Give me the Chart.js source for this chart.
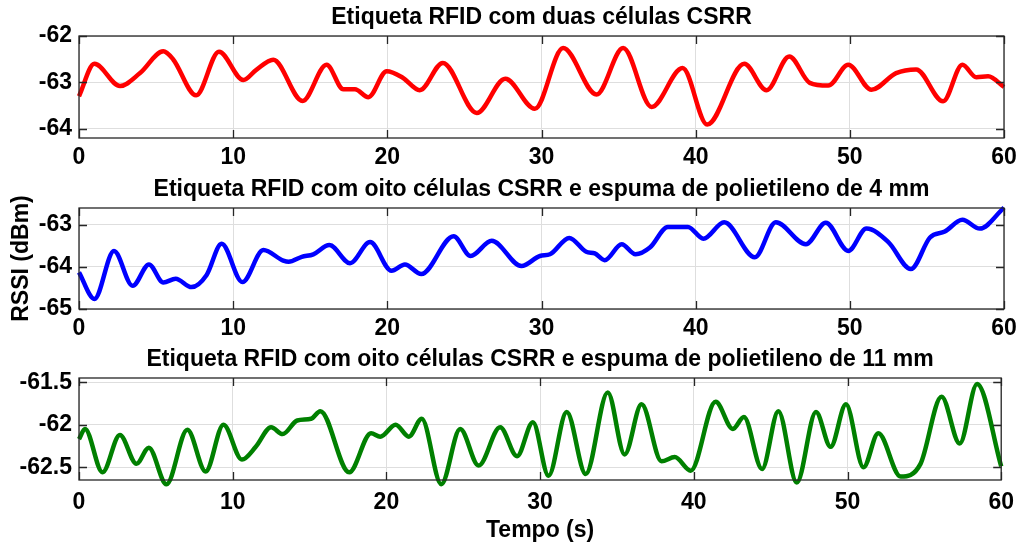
<!DOCTYPE html>
<html>
<head>
<meta charset="utf-8">
<script src="https://cdn.jsdelivr.net/npm/chart.js@4.4.1/dist/chart.umd.min.js"></script>
<style>
    body { margin: 0; background: #fff; width: 1023px; height: 547px; overflow: hidden; position: relative; }
    .painel { position: absolute; left: 0; width: 1023px; }
</style>
</head>
<body>
<div class="painel" style="top:0;height:170px"><canvas id="grafico1"></canvas></div>
<div class="painel" style="top:172px;height:169px"><canvas id="grafico2"></canvas></div>
<div class="painel" style="top:342px;height:205px"><canvas id="grafico3"></canvas></div>
<script>
// dados (tempo em s, RSSI em dBm)
var tempo1 = [0, 1.0, 2.66, 3.96, 5.47, 6.1, 7.6, 9.08, 10.66, 11.5, 12.6, 14.5, 16.06, 17.15, 17.9, 18.77, 19.96, 21.0, 22.1, 23.6, 25.8, 27.65, 29.57, 31.4, 33.57, 35.3, 37.14, 39.15, 40.75, 43.15, 44.6, 46.07, 47.4, 48.6, 49.9, 51.4, 53.0, 54.3, 56.05, 57.3, 58.2, 58.97, 60];
var rssi1 = [-63.3, -62.6, -63.08, -62.8, -62.33, -62.5, -63.28, -62.34, -62.95, -62.73, -62.51, -63.4, -62.62, -63.15, -63.15, -63.32, -62.76, -62.9, -63.17, -62.58, -63.66, -62.92, -63.57, -62.26, -63.26, -62.26, -63.53, -62.69, -63.91, -62.6, -63.17, -62.44, -63.01, -63.07, -62.62, -63.16, -62.8, -62.72, -63.41, -62.62, -62.89, -62.87, -63.1];

var tempo2 = [0, 1.0, 2.27, 3.48, 4.54, 5.47, 6.27, 7.3, 8.28, 9.25, 10.6, 11.96, 13.25, 13.6, 14.45, 15.2, 16.24, 17.58, 18.88, 20.27, 21.14, 22.2, 24.3, 25.4, 26.77, 28.7, 29.9, 30.55, 31.8, 32.9, 33.46, 34.1, 35.2, 36.1, 37.03, 38.2, 39.5, 40.5, 41.85, 43.84, 45.2, 47.15, 48.44, 49.9, 51.08, 52.5, 53.96, 55.2, 56.16, 57.3, 58.43, 60];
var rssi2 = [-64.13, -64.76, -63.62, -64.45, -63.94, -64.37, -64.28, -64.48, -64.19, -63.45, -64.36, -63.6, -63.85, -63.88, -63.76, -63.7, -63.48, -63.91, -63.41, -64.09, -63.94, -64.17, -63.27, -63.74, -63.38, -63.98, -63.74, -63.7, -63.31, -63.64, -63.68, -63.84, -63.46, -63.7, -63.54, -63.05, -63.05, -63.33, -62.94, -63.77, -62.94, -63.46, -62.95, -63.62, -63.09, -63.41, -64.05, -63.3, -63.16, -62.88, -63.09, -62.59];

var tempo3 = [0, 0.39, 1.53, 2.66, 3.74, 4.54, 5.69, 7.05, 8.24, 9.4, 10.6, 11.5, 12.5, 13.25, 14.2, 15.1, 15.7, 17.58, 19.0, 19.6, 20.6, 21.46, 22.3, 23.57, 24.8, 26.0, 27.4, 28.5, 29.53, 30.55, 31.73, 32.97, 34.4, 35.5, 36.6, 37.9, 38.76, 39.8, 41.42, 42.54, 43.26, 44.44, 45.5, 46.7, 47.95, 48.9, 49.9, 51.04, 52.0, 53.46, 54.75, 56.12, 57.3, 58.43, 60];
var rssi3 = [-62.17, -62.05, -62.56, -62.12, -62.46, -62.27, -62.7, -62.06, -62.55, -62.0, -62.41, -62.26, -62.03, -62.11, -61.95, -61.93, -61.84, -62.56, -62.1, -62.14, -62.0, -62.14, -61.93, -62.7, -62.05, -62.48, -62.03, -62.37, -61.97, -62.6, -61.85, -62.58, -61.62, -62.35, -61.76, -62.43, -62.38, -62.54, -61.73, -62.05, -61.91, -62.52, -61.84, -62.68, -61.85, -62.26, -61.76, -62.5, -62.1, -62.61, -62.46, -61.67, -62.22, -61.52, -62.49];

var ticksX = [0, 10, 20, 30, 40, 50, 60];
var ticksY1 = [-64, -63, -62];
var ticksY2 = [-65, -64, -63];
var ticksY3 = [-62.5, -62, -61.5];

var titulos = [
    'Etiqueta RFID com duas células CSRR',
    'Etiqueta RFID com oito células CSRR e espuma de polietileno de 4 mm',
    'Etiqueta RFID com oito células CSRR e espuma de polietileno de 11 mm'
];

Chart.defaults.font.family = "'Liberation Sans', Arial, Helvetica, sans-serif";
Chart.defaults.color = '#000';

// caixa preta em volta e marcas de escala para dentro (estilo MATLAB)
var moldura = {
    id: 'moldura',
    afterDatasetsDraw: function (chart) {
        var ctx = chart.ctx;
        var a = chart.chartArea;
        var sx = chart.scales.x;
        var sy = chart.scales.y;
        var tam = 8;
        ctx.save();
        ctx.strokeStyle = '#262626';
        ctx.lineWidth = 1.3;
        ctx.beginPath();
        sx.ticks.forEach(function (t) {
            var px = Math.round(sx.getPixelForValue(t.value)) + 0.5;
            ctx.moveTo(px, a.bottom);
            ctx.lineTo(px, a.bottom - tam);
            ctx.moveTo(px, a.top);
            ctx.lineTo(px, a.top + tam);
        });
        sy.ticks.forEach(function (t) {
            var py = Math.round(sy.getPixelForValue(t.value)) + 0.5;
            ctx.moveTo(a.left, py);
            ctx.lineTo(a.left + tam, py);
            ctx.moveTo(a.right, py);
            ctx.lineTo(a.right - tam, py);
        });
        ctx.stroke();
        ctx.strokeRect(a.left, a.top, a.right - a.left, a.bottom - a.top);
        ctx.restore();
    }
};

function criarGrafico(id, titulo, tempo, rssi, cor, yMin, yMax, ticksY, alturaX, padX, tituloY, tituloX) {
    var pontos = tempo.map(function (t, i) {
        return { x: t, y: rssi[i] };
    });
    var ctx = document.getElementById(id);
    return new Chart(ctx, {
        type: 'line',
        data: {
            datasets: [{
                data: pontos,
                borderColor: cor,
                borderWidth: 4.5,
                pointRadius: 0,
                cubicInterpolationMode: 'monotone',
                clip: false
            }]
        },
        plugins: [moldura],
        options: {
            responsive: true,
            maintainAspectRatio: false,
            animation: false,
            events: [],
            layout: { padding: { left: 0, right: 19, top: 0, bottom: 0 } },
            plugins: {
                legend: { display: false },
                tooltip: { enabled: false },
                title: {
                    display: true,
                    text: titulo,
                    fullSize: false,
                    color: '#000',
                    font: { size: 23, weight: 'bold' },
                    padding: { top: 4, bottom: 4.4 }
                }
            },
            scales: {
                x: {
                    type: 'linear',
                    min: 0,
                    max: 60,
                    afterBuildTicks: function (scale) {
                        scale.ticks = ticksX.map(function (v) { return { value: v }; });
                    },
                    afterFit: function (scale) {
                        scale.height = alturaX;
                    },
                    grid: { color: '#dedede', lineWidth: 1, drawTicks: false },
                    border: { display: false },
                    ticks: {
                        color: '#000',
                        padding: padX,
                        maxRotation: 0,
                        font: { size: 23, weight: 'bold' },
                        callback: function (value) { return String(value); }
                    },
                    title: {
                        display: !!tituloX,
                        text: tituloX || '',
                        color: '#000',
                        font: { size: 23, weight: 'bold' },
                        padding: { top: 0, bottom: 3 }
                    }
                },
                y: {
                    min: yMin,
                    max: yMax,
                    afterBuildTicks: function (scale) {
                        scale.ticks = ticksY.map(function (v) { return { value: v }; });
                    },
                    afterFit: function (scale) {
                        scale.width = 79;
                    },
                    grid: { color: '#dedede', lineWidth: 1, drawTicks: false },
                    border: { display: false },
                    ticks: {
                        color: '#000',
                        padding: 7,
                        font: { size: 23, weight: 'bold' },
                        callback: function (value) { return String(value); }
                    },
                    title: {
                        display: !!tituloY,
                        text: tituloY || '',
                        color: '#000',
                        font: { size: 23, weight: 'bold' },
                        padding: { top: 8, bottom: 0 }
                    }
                }
            }
        }
    });
}

criarGrafico('grafico1', titulos[0], tempo1, rssi1, '#ff0000', -64.2, -62, ticksY1, 32, 6, null, null);
criarGrafico('grafico2', titulos[1], tempo2, rssi2, '#0000ff', -65, -62.6, ticksY2, 32, 6, 'RSSI (dBm)', null);
criarGrafico('grafico3', titulos[2], tempo3, rssi3, '#008000', -62.65, -61.45, ticksY3, 67, 9, null, 'Tempo (s)');
</script>
</body>
</html>
